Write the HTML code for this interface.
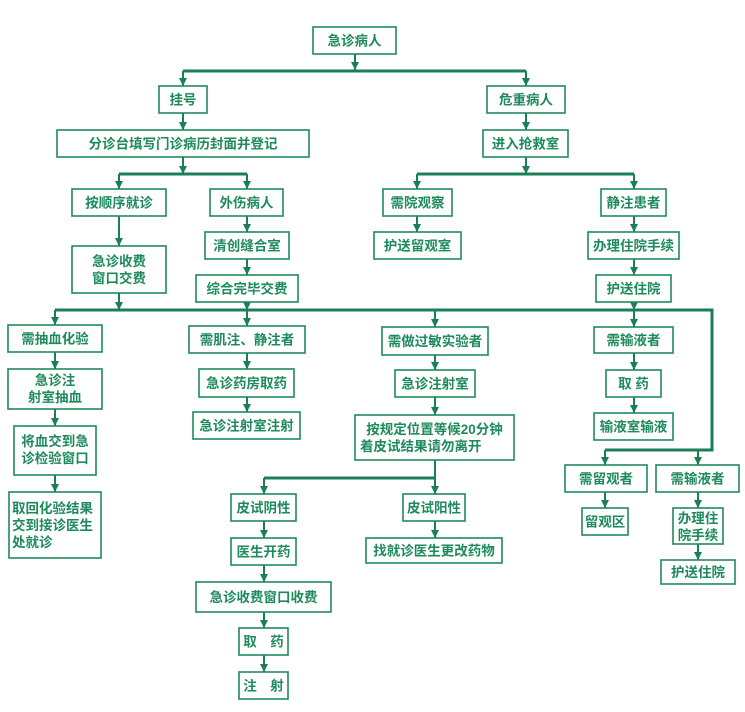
<!DOCTYPE html>
<html><head><meta charset="utf-8"><style>
html,body{margin:0;padding:0;background:#fff;}
svg{display:block;}
text{font-family:"Liberation Sans","Noto Sans CJK SC",sans-serif;font-size:13.5px;fill:#1d8a5c;font-weight:bold;}
rect{fill:#fff;stroke:#1f8a5c;stroke-width:1.6;}
.l{stroke:#1a7f55;stroke-width:2;fill:none;}
.b{stroke:#1a7f55;stroke-width:3;fill:none;}
</style></head><body>
<svg width="745" height="712" viewBox="0 0 745 712" xmlns="http://www.w3.org/2000/svg">
<defs><marker id="a" markerWidth="6" markerHeight="6" refX="3" refY="5" orient="auto" markerUnits="userSpaceOnUse"><path d="M0,0 L6,0 L3,6 Z" fill="#1a7f55" transform="rotate(-90 3 3)"/></marker>
<marker id="d" viewBox="0 0 8 8" markerWidth="8" markerHeight="8" refX="4" refY="8" orient="0" markerUnits="userSpaceOnUse"><path d="M0,0 L8,0 L4,8 Z" fill="#1a7f55"/></marker></defs>

<!-- buses -->
<g class="b">
<path d="M183,71 H526"/>
<path d="M119,174 H247"/>
<path d="M417,174 H634"/>
<path d="M55,310 H712 V450 H605"/>
<path d="M264,478 H435"/>
</g>
<g class="l" marker-end="url(#d)">
<path d="M355,54 V70" marker-end="url(#d)"/>
<path d="M183,71 V86" marker-end="url(#d)"/>
<path d="M526,71 V86" marker-end="url(#d)"/>
<path d="M183,113 V130" marker-end="url(#d)"/>
<path d="M526,113 V130" marker-end="url(#d)"/>
<path d="M183,157 V174" marker-end="url(#d)"/>
<path d="M526,157 V174" marker-end="url(#d)"/>
<path d="M119,174 V189" marker-end="url(#d)"/>
<path d="M247,174 V189" marker-end="url(#d)"/>
<path d="M417,174 V189" marker-end="url(#d)"/>
<path d="M634,174 V189" marker-end="url(#d)"/>
<path d="M119,216 V246" marker-end="url(#d)"/>
<path d="M247,216 V232" marker-end="url(#d)"/>
<path d="M247,259 V275" marker-end="url(#d)"/>
<path d="M417,216 V232" marker-end="url(#d)"/>
<path d="M634,216 V232" marker-end="url(#d)"/>
<path d="M634,259 V275" marker-end="url(#d)"/>
<path d="M119,293 V310" marker-end="url(#d)"/>
<path d="M247,302 V310"/>
<path d="M634,302 V310"/>
<path d="M55,310 V325" marker-end="url(#d)"/>
<path d="M247,310 V326" marker-end="url(#d)"/>
<path d="M435,310 V327" marker-end="url(#d)"/>
<path d="M634,310 V327" marker-end="url(#d)"/>
<path d="M55,352 V369" marker-end="url(#d)"/>
<path d="M55,409 V426" marker-end="url(#d)"/>
<path d="M55,475 V492" marker-end="url(#d)"/>
<path d="M247,353 V369" marker-end="url(#d)"/>
<path d="M247,397 V412" marker-end="url(#d)"/>
<path d="M435,355 V370" marker-end="url(#d)"/>
<path d="M435,397 V415" marker-end="url(#d)"/>
<path d="M435,460 V494" marker-end="url(#d)"/>
<path d="M264,478 V494" marker-end="url(#d)"/>
<path d="M264,521 V538" marker-end="url(#d)"/>
<path d="M264,565 V582" marker-end="url(#d)"/>
<path d="M264,612 V628" marker-end="url(#d)"/>
<path d="M264,655 V672" marker-end="url(#d)"/>
<path d="M435,521 V538" marker-end="url(#d)"/>
<path d="M634,353 V370" marker-end="url(#d)"/>
<path d="M634,397 V413" marker-end="url(#d)"/>
<path d="M605,450 V465" marker-end="url(#d)"/>
<path d="M698,450 V465" marker-end="url(#d)"/>
<path d="M605,492 V508" marker-end="url(#d)"/>
<path d="M698,492 V508" marker-end="url(#d)"/>
<path d="M698,544 V560" marker-end="url(#d)"/>
</g>

<!-- boxes -->
<rect x="313" y="27" width="83" height="27"/><text x="354.5" y="45.5" text-anchor="middle">急诊病人</text>
<rect x="159" y="86" width="48" height="27"/><text x="183" y="104.5" text-anchor="middle">挂号</text>
<rect x="57" y="130" width="252" height="27"/><text x="183" y="148.5" text-anchor="middle">分诊台填写门诊病历封面并登记</text>
<rect x="72" y="189" width="94" height="27"/><text x="119" y="207.5" text-anchor="middle">按顺序就诊</text>
<rect x="210" y="189" width="73" height="27"/><text x="246.5" y="207.5" text-anchor="middle">外伤病人</text>
<rect x="205" y="232" width="84" height="27"/><text x="247" y="250.5" text-anchor="middle">清创缝合室</text>
<rect x="196" y="275" width="102" height="27"/><text x="247" y="293.5" text-anchor="middle">综合完毕交费</text>
<rect x="72" y="246" width="94" height="47"/><text x="119" y="266" text-anchor="middle">急诊收费</text><text x="119" y="283" text-anchor="middle">窗口交费</text>
<rect x="487" y="86" width="78" height="27"/><text x="526" y="104.5" text-anchor="middle">危重病人</text>
<rect x="483" y="130" width="85" height="27"/><text x="525.5" y="148.5" text-anchor="middle">进入抢救室</text>
<rect x="383" y="189" width="69" height="27"/><text x="417.5" y="207.5" text-anchor="middle">需院观察</text>
<rect x="374" y="232" width="87" height="27"/><text x="417.5" y="250.5" text-anchor="middle">护送留观室</text>
<rect x="601" y="189" width="65" height="27"/><text x="633.5" y="207.5" text-anchor="middle">静注患者</text>
<rect x="588" y="232" width="91" height="27"/><text x="633.5" y="250.5" text-anchor="middle">办理住院手续</text>
<rect x="596" y="275" width="75" height="27"/><text x="633.5" y="293.5" text-anchor="middle">护送住院</text>

<rect x="8" y="325" width="94" height="27"/><text x="55" y="343.5" text-anchor="middle">需抽血化验</text>
<rect x="8" y="369" width="94" height="40"/><text x="55" y="385" text-anchor="middle">急诊注</text><text x="55" y="402" text-anchor="middle">射室抽血</text>
<rect x="14" y="426" width="82" height="49"/><text x="55" y="446" text-anchor="middle">将血交到急</text><text x="55" y="463" text-anchor="middle">诊检验窗口</text>
<rect x="9" y="492" width="92" height="66"/><text x="12" y="513">取回化验结果</text><text x="12" y="530">交到接诊医生</text><text x="12" y="547">处就诊</text>
<rect x="189" y="326" width="116" height="27"/><text x="247" y="344.5" text-anchor="middle">需肌注、静注者</text>
<rect x="199" y="369" width="95" height="28"/><text x="246.5" y="388" text-anchor="middle">急诊药房取药</text>
<rect x="193" y="412" width="107" height="27"/><text x="246.5" y="430.5" text-anchor="middle">急诊注射室注射</text>
<rect x="382" y="327" width="106" height="28"/><text x="435" y="346" text-anchor="middle">需做过敏实验者</text>
<rect x="395" y="370" width="80" height="27"/><text x="435" y="388.5" text-anchor="middle">急诊注射室</text>
<rect x="355" y="415" width="159" height="45"/><text x="434.5" y="434" text-anchor="middle">按规定位置等候20分钟</text><text x="360" y="451">着皮试结果请勿离开</text>
<rect x="231" y="494" width="65" height="27"/><text x="263.5" y="512.5" text-anchor="middle">皮试阴性</text>
<rect x="231" y="538" width="65" height="27"/><text x="263.5" y="556.5" text-anchor="middle">医生开药</text>
<rect x="196" y="582" width="135" height="30"/><text x="263.5" y="602" text-anchor="middle">急诊收费窗口收费</text>
<rect x="239" y="628" width="49" height="27"/><text x="263.5" y="646.5" text-anchor="middle">取　药</text>
<rect x="239" y="672" width="49" height="27"/><text x="263.5" y="690.5" text-anchor="middle">注　射</text>
<rect x="403" y="494" width="62" height="27"/><text x="434" y="512.5" text-anchor="middle">皮试阳性</text>
<rect x="366" y="538" width="136" height="25"/><text x="434" y="555.5" text-anchor="middle">找就诊医生更改药物</text>
<rect x="594" y="327" width="79" height="26"/><text x="633.5" y="345" text-anchor="middle">需输液者</text>
<rect x="606" y="370" width="55" height="27"/><text x="633.5" y="388.5" text-anchor="middle">取 药</text>
<rect x="594" y="413" width="79" height="27"/><text x="633.5" y="431.5" text-anchor="middle">输液室输液</text>
<rect x="565" y="465" width="82" height="27"/><text x="606" y="483.5" text-anchor="middle">需留观者</text>
<rect x="656" y="465" width="83" height="27"/><text x="697.5" y="483.5" text-anchor="middle">需输液者</text>
<rect x="582" y="508" width="46" height="27"/><text x="605" y="526.5" text-anchor="middle">留观区</text>
<rect x="673" y="508" width="50" height="36"/><text x="698" y="523" text-anchor="middle">办理住</text><text x="698" y="540" text-anchor="middle">院手续</text>
<rect x="661" y="560" width="74" height="24"/><text x="698" y="577" text-anchor="middle">护送住院</text>
</svg>
</body></html>
